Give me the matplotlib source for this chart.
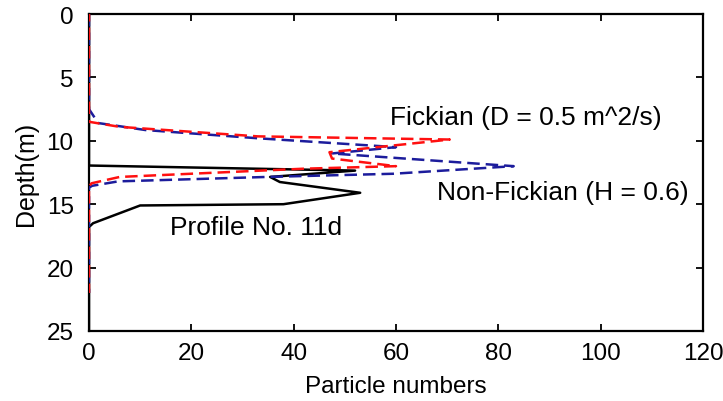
import matplotlib
matplotlib.use("Agg")
import matplotlib.pyplot as plt

# Particle number profiles versus depth
fick_x = [0, 0, 6, 33, 70.5, 47, 47.5, 60, 42, 6, 0.5, 0, 0]
fick_depth = [0, 8.5, 8.9, 9.65, 9.9, 10.9, 11.4, 12.0, 12.2, 12.85, 13.35, 13.6, 22]

nonfick_x = [0, 0, 1.8, 6, 11, 33, 60, 47.5, 83, 59.4, 34.8, 5.7, 0.6, 0, 0]
nonfick_depth = [0, 7.5, 8.6, 8.85, 9.15, 9.8, 10.5, 11.0, 12.0, 12.6, 12.85, 13.2, 13.55, 13.7, 22]

obs_x = [0, 0, 52, 35.4, 37.3, 53, 38, 10, 0.8, 0, 0]
obs_depth = [0, 11.95, 12.35, 12.85, 13.25, 14.1, 15.0, 15.1, 16.5, 16.8, 25]

x_ticks = [0, 20, 40, 60, 80, 100, 120]
y_ticks = [0, 5, 10, 15, 20, 25]

plt.rcParams['font.family'] = ['Liberation Sans', 'DejaVu Sans']

fig = plt.figure(figsize=(7.23, 4.02), dpi=100)
ax = fig.add_axes([89/723, 1 - 332/402, (703 - 89)/723, (332 - 15)/402])

ax.plot(obs_x, obs_depth, color='black', lw=1.8, zorder=3)
ax.plot(nonfick_x, nonfick_depth, color='#1c1c9c', lw=1.8,
        linestyle=(0, (5, 2.4)), zorder=4)
ax.plot(fick_x, fick_depth, color='#ff1010', lw=1.8,
        linestyle=(2, (5, 2.4)), zorder=5)

ax.set_xlim(0, 120)
ax.set_ylim(25, 0)
ax.set_xticks(x_ticks)
ax.set_yticks(y_ticks)
ax.tick_params(direction='in', top=True, right=True, length=5, width=1.3,
               labelsize=17.5)
ax.tick_params(axis='x', pad=8)
ax.tick_params(axis='y', pad=11)
for s in ax.spines.values():
    s.set_linewidth(1.6)

ax.set_xlabel('Particle numbers', fontsize=17.5, labelpad=8)
ax.set_ylabel('Depth(m)', fontsize=18, labelpad=6)

ax.text(58.8, 8.1, 'Fickian (D = 0.5 m^2/s)', fontsize=19, va='center', ha='left')
ax.text(68.0, 14.0, 'Non-Fickian (H = 0.6)', fontsize=19, va='center', ha='left')
ax.text(15.8, 16.8, 'Profile No. 11d', fontsize=19, va='center', ha='left')

fig.savefig('out.png', dpi=100)
